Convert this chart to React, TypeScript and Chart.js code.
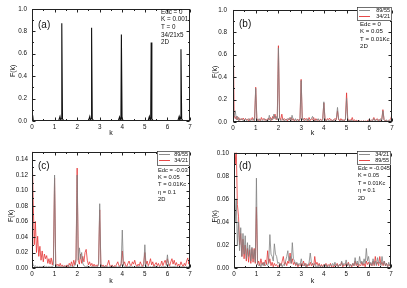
import React, { useEffect, useRef } from "react";
import { Chart, registerables } from "chart.js";
Chart.register(...registerables);

// ---------- data ----------
const kGrid = [
  0, 0.05, 0.1, 0.15, 0.2, 0.25, 0.3, 0.35, 0.4, 0.45, 0.5, 0.55, 0.6, 0.65, 0.7, 0.75, 0.8, 0.85, 0.9, 0.95,
  1, 1.05, 1.1, 1.15, 1.2, 1.25, 1.3, 1.35, 1.4, 1.45, 1.5, 1.55, 1.6, 1.65, 1.7, 1.75, 1.8, 1.85, 1.9, 1.95,
  2, 2.05, 2.1, 2.15, 2.2, 2.25, 2.3, 2.35, 2.4, 2.45, 2.5, 2.55, 2.6, 2.65, 2.7, 2.75, 2.8, 2.85, 2.9, 2.95,
  3, 3.05, 3.1, 3.15, 3.2, 3.25, 3.3, 3.35, 3.4, 3.45, 3.5, 3.55, 3.6, 3.65, 3.7, 3.75, 3.8, 3.85, 3.9, 3.95,
  4, 4.05, 4.1, 4.15, 4.2, 4.25, 4.3, 4.35, 4.4, 4.45, 4.5, 4.55, 4.6, 4.65, 4.7, 4.75, 4.8, 4.85, 4.9, 4.95,
  5, 5.05, 5.1, 5.15, 5.2, 5.25, 5.3, 5.35, 5.4, 5.45, 5.5, 5.55, 5.6, 5.65, 5.7, 5.75, 5.8, 5.85, 5.9, 5.95,
  6, 6.05, 6.1, 6.15, 6.2, 6.25, 6.3, 6.35, 6.4, 6.45, 6.5, 6.55, 6.6, 6.65, 6.7, 6.75, 6.8, 6.85, 6.9, 6.95,
  7,
];

// panel (a): 34/21x5
const kA = [
  0, 0.03, 0.06, 0.12, 1.18, 1.24, 1.27, 1.3, 1.32, 1.35, 1.42, 2.5, 2.56, 2.59, 2.62, 2.64, 2.67, 2.74,
  3.82, 3.88, 3.91, 3.94, 3.96, 3.99, 4.06, 5.14, 5.2, 5.23, 5.26, 5.28, 5.31, 5.38, 6.46, 6.52, 6.55,
  6.58, 6.6, 6.63, 6.7, 7,
];
const fA = [
  0.0, 0.05, 0.0, 0.0, 0.0, 0.04, 0.01, 0.02, 0.87, 0.02, 0.0, 0.0, 0.04, 0.01, 0.02, 0.83, 0.02, 0.0,
  0.0, 0.035, 0.01, 0.02, 0.77, 0.02, 0.0, 0.0, 0.04, 0.01, 0.02, 0.7, 0.02, 0.0, 0.0, 0.04, 0.01,
  0.02, 0.64, 0.02, 0.0, 0.0,
];

// panel (b)
const fB_89_55 = [
  0.02, 0.05, 0.1, 0.02, 0.05, 0.01, 0.03, 0.02, 0.03, 0.01, 0.02, 0.03, 0.01, 0.02, 0.03, 0.01, 0.02, 0.015, 0.03, 0.01,
  0.3, 0.02, 0.01, 0.03, 0.015, 0.02, 0.01, 0.02, 0.03, 0.01, 0.02, 0.015, 0.06, 0.01, 0.03, 0.02, 0.07, 0.03, 0.05, 0.02,
  0.66, 0.03, 0.01, 0.02, 0.03, 0.01, 0.02, 0.015, 0.03, 0.02, 0.04, 0.01, 0.06, 0.02, 0.015, 0.03, 0.01, 0.02, 0.015, 0.02,
  0.37, 0.02, 0.03, 0.01, 0.02, 0.015, 0.03, 0.01, 0.02, 0.03, 0.05, 0.02, 0.01, 0.02, 0.015, 0.03, 0.01, 0.02, 0.01, 0.015,
  0.18, 0.02, 0.01, 0.02, 0.015, 0.01, 0.02, 0.01, 0.015, 0.02, 0.01, 0.03, 0.13, 0.03, 0.015, 0.01, 0.02, 0.01, 0.015, 0.02,
  0.21, 0.02, 0.01, 0.015, 0.01, 0.02, 0.005, 0.01, 0.005, 0.01, 0.004, 0.008, 0.003, 0.006, 0.004, 0.008, 0.003, 0.006, 0.004, 0.01,
  0.015, 0.008, 0.02, 0.01, 0.03, 0.01, 0.02, 0.015, 0.02, 0.01, 0.03, 0.015, 0.1, 0.02, 0.01, 0.02, 0.008, 0.015, 0.01, 0.02,
  0.03,
];
const fB_34_21 = [
  1.0, 0.06, 0.03, 0.05, 0.02, 0.04, 0.015, 0.03, 0.02, 0.035, 0.015, 0.03, 0.02, 0.025, 0.01, 0.03, 0.02, 0.04, 0.015, 0.03,
  0.31, 0.03, 0.015, 0.02, 0.01, 0.04, 0.02, 0.03, 0.015, 0.025, 0.01, 0.035, 0.02, 0.04, 0.015, 0.05, 0.03, 0.07, 0.02, 0.04,
  0.68, 0.04, 0.02, 0.07, 0.015, 0.03, 0.02, 0.025, 0.01, 0.03, 0.02, 0.04, 0.015, 0.03, 0.01, 0.02, 0.015, 0.025, 0.01, 0.03,
  0.38, 0.03, 0.015, 0.035, 0.02, 0.03, 0.01, 0.04, 0.015, 0.025, 0.02, 0.04, 0.01, 0.03, 0.015, 0.02, 0.01, 0.025, 0.015, 0.03,
  0.17, 0.03, 0.01, 0.03, 0.02, 0.035, 0.015, 0.02, 0.01, 0.025, 0.03, 0.02, 0.1, 0.02, 0.01, 0.03, 0.015, 0.02, 0.01, 0.03,
  0.26, 0.03, 0.01, 0.02, 0.015, 0.04, 0.01, 0.02, 0.008, 0.015, 0.005, 0.01, 0.005, 0.008, 0.004, 0.01, 0.005, 0.008, 0.004, 0.02,
  0.01, 0.015, 0.005, 0.02, 0.04, 0.015, 0.02, 0.03, 0.01, 0.02, 0.015, 0.025, 0.11, 0.02, 0.01, 0.015, 0.005, 0.01, 0.02, 0.03,
  0.07,
];

// panel (c)
const fC_89_55 = [
  0.01, 0.004, 0.002, 0.003, 0.001, 0.002, 0.001, 0.002, 0.001, 0.002, 0.001, 0.003, 0.001, 0.002, 0.001, 0.002, 0.001, 0.002, 0.001, 0.004,
  0.12, 0.004, 0.001, 0.002, 0.001, 0.002, 0.001, 0.002, 0.001, 0.003, 0.001, 0.002, 0.004, 0.001, 0.002, 0.003, 0.001, 0.002, 0.003, 0.008,
  0.12, 0.01, 0.026, 0.012, 0.02, 0.006, 0.003, 0.002, 0.001, 0.003, 0.001, 0.002, 0.001, 0.002, 0.001, 0.002, 0.001, 0.002, 0.001, 0.005,
  0.083, 0.005, 0.001, 0.002, 0.001, 0.003, 0.001, 0.002, 0.001, 0.002, 0.001, 0.003, 0.001, 0.002, 0.001, 0.002, 0.001, 0.002, 0.001, 0.004,
  0.049, 0.004, 0.001, 0.002, 0.001, 0.002, 0.001, 0.003, 0.001, 0.002, 0.001, 0.002, 0.001, 0.002, 0.001, 0.003, 0.001, 0.002, 0.001, 0.003,
  0.03, 0.003, 0.001, 0.002, 0.001, 0.002, 0.001, 0.002, 0.001, 0.003, 0.001, 0.002, 0.001, 0.002, 0.001, 0.002, 0.001, 0.002, 0.001, 0.003,
  0.017, 0.003, 0.001, 0.002, 0.001, 0.002, 0.001, 0.003, 0.001, 0.002, 0.001, 0.002, 0.001, 0.002, 0.001, 0.002, 0.001, 0.002, 0.001, 0.002,
  0.003,
];
const fC_34_21 = [
  0.16, 0.09, 0.03, 0.06, 0.02, 0.041, 0.015, 0.028, 0.01, 0.022, 0.008, 0.018, 0.012, 0.016, 0.006, 0.012, 0.005, 0.013, 0.004, 0.012,
  0.116, 0.006, 0.003, 0.005, 0.002, 0.006, 0.002, 0.004, 0.001, 0.003, 0.002, 0.004, 0.001, 0.006, 0.003, 0.008, 0.002, 0.01, 0.004, 0.012,
  0.129, 0.01, 0.005, 0.018, 0.006, 0.015, 0.008, 0.02, 0.024, 0.01, 0.004, 0.008, 0.003, 0.006, 0.002, 0.005, 0.002, 0.004, 0.002, 0.006,
  0.075, 0.005, 0.002, 0.004, 0.001, 0.003, 0.002, 0.005, 0.01, 0.003, 0.002, 0.004, 0.001, 0.003, 0.002, 0.005, 0.008, 0.003, 0.002, 0.006,
  0.022, 0.004, 0.008, 0.003, 0.002, 0.006, 0.009, 0.004, 0.003, 0.008, 0.005, 0.01, 0.004, 0.002, 0.005, 0.003, 0.008, 0.004, 0.002, 0.006,
  0.02, 0.005, 0.009, 0.003, 0.006, 0.012, 0.004, 0.008, 0.002, 0.005, 0.007, 0.003, 0.006, 0.002, 0.004, 0.009, 0.003, 0.007, 0.01, 0.004,
  0.012, 0.006, 0.003, 0.008, 0.012, 0.005, 0.01, 0.004, 0.007, 0.002, 0.005, 0.003, 0.008, 0.004, 0.002, 0.006, 0.003, 0.009, 0.013, 0.005,
  0.012,
];

// panel (d)
const fD_34_21 = [
  0.08, 0.04, 0.06, 0.02, 0.04, 0.015, 0.035, 0.01, 0.03, 0.012, 0.028, 0.008, 0.022, 0.01, 0.02, 0.006, 0.018, 0.008, 0.016, 0.005,
  0.078, 0.004, 0.002, 0.003, 0.001, 0.004, 0.002, 0.005, 0.002, 0.003, 0.002, 0.006, 0.029, 0.012, 0.01, 0.006, 0.021, 0.012, 0.01, 0.004,
  0.005, 0.002, 0.004, 0.001, 0.003, 0.002, 0.006, 0.01, 0.015, 0.006, 0.01, 0.004, 0.022, 0.008, 0.006, 0.003, 0.005, 0.002, 0.004, 0.003,
  0.008, 0.003, 0.002, 0.004, 0.001, 0.003, 0.002, 0.005, 0.013, 0.005, 0.003, 0.002, 0.004, 0.001, 0.002, 0.001, 0.003, 0.001, 0.002, 0.001,
  0.002, 0.001, 0.003, 0.001, 0.002, 0.001, 0.003, 0.002, 0.004, 0.002, 0.005, 0.002, 0.003, 0.001, 0.003, 0.002, 0.006, 0.002, 0.004, 0.003,
  0.007, 0.002, 0.004, 0.001, 0.003, 0.002, 0.004, 0.002, 0.009, 0.003, 0.006, 0.002, 0.01, 0.004, 0.006, 0.003, 0.008, 0.004, 0.017, 0.006,
  0.01, 0.003, 0.005, 0.002, 0.008, 0.003, 0.006, 0.002, 0.009, 0.004, 0.005, 0.002, 0.01, 0.003, 0.006, 0.002, 0.004, 0.001, 0.005, 0.002,
  0.004,
];
const fD_89_55 = [
  0.11, 0.09, 0.105, 0.055, 0.045, 0.02, 0.03, 0.01, 0.025, 0.008, 0.02, 0.006, 0.017, 0.005, 0.016, 0.004, 0.017, 0.005, 0.017, 0.004,
  0.053, 0.003, 0.006, 0.002, 0.008, 0.003, 0.005, 0.002, 0.007, 0.003, 0.015, 0.004, 0.008, 0.002, 0.005, 0.001, 0.004, 0.002, 0.003, 0.001,
  0.002, 0.004, 0.002, 0.006, 0.01, 0.003, 0.005, 0.002, 0.006, 0.004, 0.013, 0.004, 0.008, 0.003, 0.005, 0.002, 0.004, 0.001, 0.003, 0.002,
  0.004, 0.002, 0.006, 0.002, 0.004, 0.001, 0.003, 0.002, 0.005, 0.002, 0.004, 0.001, 0.01, 0.003, 0.005, 0.002, 0.004, 0.001, 0.003, 0.001,
  0.003, 0.002, 0.004, 0.001, 0.003, 0.002, 0.004, 0.001, 0.002, 0.001, 0.003, 0.002, 0.004, 0.001, 0.003, 0.002, 0.005, 0.001, 0.003, 0.002,
  0.004, 0.002, 0.005, 0.002, 0.003, 0.001, 0.004, 0.002, 0.006, 0.002, 0.004, 0.001, 0.003, 0.002, 0.005, 0.002, 0.004, 0.001, 0.006, 0.003,
  0.005, 0.002, 0.004, 0.002, 0.006, 0.002, 0.01, 0.003, 0.005, 0.002, 0.01, 0.003, 0.005, 0.002, 0.006, 0.002, 0.004, 0.001, 0.003, 0.002,
  0.004,
];

// ticks
const xTicks = [0, 1, 2, 3, 4, 5, 6, 7];
const yTicksAB = [0, 0.2, 0.4, 0.6, 0.8, 1.0];
const yTicksC = [0, 0.02, 0.04, 0.06, 0.08, 0.1, 0.12, 0.14];
const yTicksD = [0, 0.02, 0.04, 0.06, 0.08, 0.1];

// text
const notesA = ["Edc = 0", "K = 0.001", "T = 0", "34/21x5", "2D"];
const notesB = ["Edc = 0", "K = 0.05", "T = 0.01Kc", "2D"];
const notesC = ["Edc = -0.03", "K = 0.05", "T = 0.01Kc", "η = 0.1", "2D"];
const notesD = ["Edc = -0.045", "K = 0.05", "T = 0.01Kc", "η = 0.1", "2D"];

const GRAY = "rgb(128,128,128)";
const RED = "rgb(228,52,52)";
const BLACK = "#111";
const FONT = "'Liberation Sans', Arial, sans-serif";

type Series = { label: string; x: number[]; y: number[]; color: string; width: number };
type PanelCfg = {
  id: string;
  pos: [number, number];
  area: { l: number; r: number; t: number; b: number };
  yMax: number;
  yTicks: number[];
  yDec: number;
  yPad: number;
  series: Series[];
  legend: { label: string; color: string }[] | null;
  legendBox: [number, number, number, number] | null;
  tag: string;
  tagPos: [number, number];
  notes: string[];
  notesPos: [number, number, number];
  notesFont: number;
  yTitleX: number;
  kTitleY: number;
};

const W = 204;
const H = 144;

const panels: PanelCfg[] = [
  {
    id: "a",
    pos: [0, 0],
    area: { l: 32, r: 190, t: 7, b: 121 },
    yMax: 1.0,
    yTicks: yTicksAB,
    yDec: 1,
    yPad: 5,
    series: [{ label: "34/21x5", x: kA, y: fA, color: BLACK, width: 1.1 }],
    legend: null,
    legendBox: null,
    tag: "(a)",
    tagPos: [38, 25],
    notes: notesA,
    notesPos: [161, 12, 7.6],
    notesFont: 6.3,
    yTitleX: 13,
    kTitleY: 133,
  },
  {
    id: "b",
    pos: [203, 0],
    area: { l: 30, r: 189, t: 7, b: 122 },
    yMax: 1.0,
    yTicks: yTicksAB,
    yDec: 1,
    yPad: 6,
    series: [
      { label: "89/55", x: kGrid, y: fB_89_55, color: GRAY, width: 0.8 },
      { label: "34/21", x: kGrid, y: fB_34_21, color: RED, width: 0.8 },
    ],
    legend: [
      { label: "89/55", color: GRAY },
      { label: "34/21", color: RED },
    ],
    legendBox: [154, 7, 35, 14],
    tag: "(b)",
    tagPos: [36, 24],
    notes: notesB,
    notesPos: [157, 24, 7.6],
    notesFont: 6.1,
    yTitleX: 12,
    kTitleY: 133,
  },
  {
    id: "c",
    pos: [0, 144],
    area: { l: 32, r: 190, t: 7, b: 124 },
    yMax: 0.15,
    yTicks: yTicksC,
    yDec: 2,
    yPad: 4,
    series: [
      { label: "89/55", x: kGrid, y: fC_89_55, color: GRAY, width: 0.8 },
      { label: "34/21", x: kGrid, y: fC_34_21, color: RED, width: 0.8 },
    ],
    legend: [
      { label: "89/55", color: GRAY },
      { label: "34/21", color: RED },
    ],
    legendBox: [157, 7, 33, 15],
    tag: "(c)",
    tagPos: [38, 22],
    notes: notesC,
    notesPos: [158, 26, 7.3],
    notesFont: 5.8,
    yTitleX: 11,
    kTitleY: 137,
  },
  {
    id: "d",
    pos: [203, 144],
    area: { l: 31, r: 188, t: 7, b: 124 },
    yMax: 0.1,
    yTicks: yTicksD,
    yDec: 2,
    yPad: 5,
    series: [
      { label: "34/21", x: kGrid, y: fD_34_21, color: GRAY, width: 0.8 },
      { label: "89/55", x: kGrid, y: fD_89_55, color: RED, width: 0.8 },
    ],
    legend: [
      { label: "34/21", color: GRAY },
      { label: "89/55", color: RED },
    ],
    legendBox: [154, 7, 34, 14],
    tag: "(d)",
    tagPos: [36, 22],
    notes: notesD,
    notesPos: [155, 24.3, 7.5],
    notesFont: 5.6,
    yTitleX: 12,
    kTitleY: 137,
  },
];

function makePlugin(cfg: PanelCfg) {
  return {
    id: "decor_" + cfg.id,
    afterDraw(chart: any) {
      const { ctx, chartArea: a, scales } = chart;
      const xs = scales.x;
      const ys = scales.y;
      ctx.save();
      const L = Math.round(a.left) + 0.5;
      const R = Math.round(a.right) - 0.5;
      const T = Math.round(a.top) + 0.5;
      const B = Math.round(a.bottom) - 0.5;
      ctx.strokeStyle = "#222";
      ctx.lineWidth = 1;
      ctx.strokeRect(L, T, R - L, B - T);
      ctx.beginPath();
      const xMinor: number[] = [];
      for (let i = 0; i < xTicks.length - 1; i++) xMinor.push((xTicks[i] + xTicks[i + 1]) / 2);
      const yMinor: number[] = [];
      for (let i = 0; i < cfg.yTicks.length - 1; i++) yMinor.push((cfg.yTicks[i] + cfg.yTicks[i + 1]) / 2);
      const xt = (v: number, len: number) => {
        const p = Math.round(xs.getPixelForValue(v)) + 0.5;
        ctx.moveTo(p, B);
        ctx.lineTo(p, B - len);
        ctx.moveTo(p, T);
        ctx.lineTo(p, T + len);
      };
      const yt = (v: number, len: number) => {
        const p = Math.round(ys.getPixelForValue(v)) + 0.5;
        ctx.moveTo(L, p);
        ctx.lineTo(L + len, p);
        ctx.moveTo(R, p);
        ctx.lineTo(R - len, p);
      };
      xTicks.forEach((v) => xt(v, 3));
      xMinor.forEach((v) => xt(v, 1.5));
      cfg.yTicks.forEach((v) => yt(v, 3));
      yMinor.forEach((v) => yt(v, 1.5));
      ctx.stroke();

      ctx.fillStyle = "#111";
      ctx.font = `7px ${FONT}`;
      ctx.textAlign = "center";
      ctx.textBaseline = "middle";
      ctx.fillText("k", (a.left + a.right) / 2, cfg.kTitleY);
      ctx.save();
      ctx.translate(cfg.yTitleX, (a.top + a.bottom) / 2 + 6);
      ctx.rotate(-Math.PI / 2);
      ctx.fillText("F(k)", 0, 0);
      ctx.restore();

      ctx.font = `10px ${FONT}`;
      ctx.textAlign = "left";
      ctx.fillText(cfg.tag, cfg.tagPos[0], cfg.tagPos[1]);

      ctx.font = `${cfg.notesFont}px ${FONT}`;
      cfg.notes.forEach((s, i) => {
        ctx.fillText(s, cfg.notesPos[0], cfg.notesPos[1] + i * cfg.notesPos[2]);
      });

      if (cfg.legend && cfg.legendBox) {
        const [bx, by, bw, bh] = cfg.legendBox;
        ctx.fillStyle = "#fff";
        ctx.fillRect(bx, by, bw, bh);
        ctx.strokeStyle = "#333";
        ctx.lineWidth = 0.7;
        ctx.strokeRect(bx + 0.5, by + 0.5, bw - 1, bh - 1);
        ctx.font = `5.5px ${FONT}`;
        cfg.legend.forEach((it, i) => {
          const yy = by + 3.5 + i * 6;
          ctx.strokeStyle = it.color;
          ctx.lineWidth = 0.9;
          ctx.beginPath();
          ctx.moveTo(bx + 2, yy);
          ctx.lineTo(bx + 13, yy);
          ctx.stroke();
          ctx.fillStyle = "#111";
          ctx.textAlign = "right";
          ctx.fillText(it.label, bx + bw - 2, yy);
        });
      }
      ctx.restore();
    },
  };
}

function PanelChart({ cfg }: { cfg: PanelCfg }) {
  const ref = useRef<HTMLCanvasElement | null>(null);
  useEffect(() => {
    if (!ref.current) return;
    const { area } = cfg;
    const chart = new Chart(ref.current, {
      type: "line",
      data: {
        datasets: cfg.series.map((s) => ({
          label: s.label,
          data: s.x.map((k, i) => ({ x: k, y: s.y[i] })),
          borderColor: s.color,
          backgroundColor: s.color,
          borderWidth: s.width,
          pointRadius: 0,
          tension: 0,
        })),
      },
      options: {
        animation: false,
        responsive: false,
        events: [],
        layout: { padding: { left: 0, top: area.t, right: W - area.r, bottom: 0 } },
        plugins: { legend: { display: false }, tooltip: { enabled: false } },
        scales: {
          x: {
            type: "linear",
            min: 0,
            max: 7,
            grid: { display: false, drawTicks: false },
            border: { display: false },
            afterBuildTicks: (s: any) => {
              s.ticks = xTicks.map((v) => ({ value: v }));
            },
            afterFit: (s: any) => {
              s.height = H - area.b;
            },
            ticks: {
              padding: 2,
              maxRotation: 0,
              autoSkip: false,
              color: "#111",
              font: { size: 6.3, family: FONT },
              callback: (v: any) => String(v),
            },
          },
          y: {
            type: "linear",
            min: 0,
            max: cfg.yMax,
            grid: { display: false, drawTicks: false },
            border: { display: false },
            afterBuildTicks: (s: any) => {
              s.ticks = cfg.yTicks.map((v) => ({ value: v }));
            },
            afterFit: (s: any) => {
              s.width = area.l;
            },
            ticks: {
              padding: cfg.yPad,
              autoSkip: false,
              color: "#111",
              font: { size: 6.3, family: FONT },
              callback: (v: any) => Number(v).toFixed(cfg.yDec),
            },
          },
        },
      } as any,
      plugins: [makePlugin(cfg)],
    });
    return () => chart.destroy();
  }, [cfg]);
  return (
    <canvas
      ref={ref}
      width={W}
      height={H}
      style={{ position: "absolute", left: cfg.pos[0], top: cfg.pos[1], width: W, height: H }}
    />
  );
}

export default function App() {
  return (
    <div
      style={{
        position: "fixed",
        left: 0,
        top: 0,
        width: 407,
        height: 288,
        background: "#fff",
        overflow: "hidden",
      }}
    >
      {panels.map((p) => (
        <PanelChart key={p.id} cfg={p} />
      ))}
    </div>
  );
}
